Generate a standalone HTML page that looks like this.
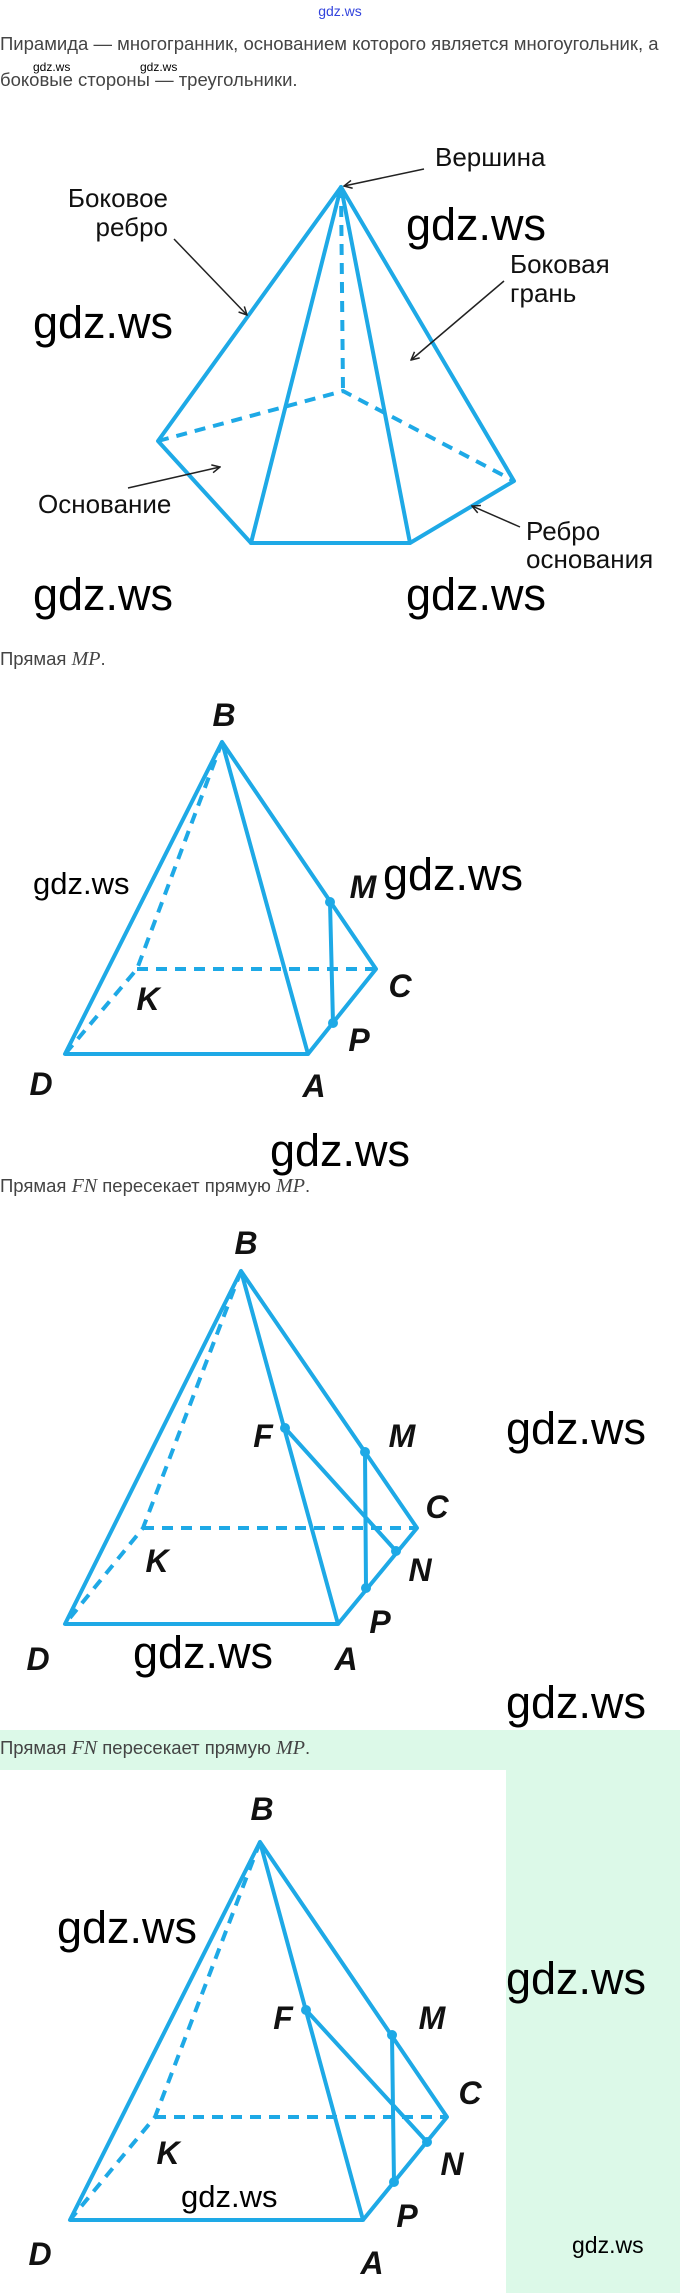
<!DOCTYPE html>
<html><head><meta charset="utf-8"><style>
html,body{margin:0;padding:0;background:#fff;}
body{width:680px;height:2293px;overflow:hidden;position:relative;}
svg{position:absolute;left:0;top:0;}
.t{font-family:"Liberation Sans",sans-serif;fill:#444;font-size:18.5px;}
.w{font-family:"Liberation Sans",sans-serif;fill:#000;}
.lb{font-family:"Liberation Sans",sans-serif;fill:#111;font-size:26px;}
.L{font-family:"Liberation Sans Narrow","Liberation Sans",sans-serif;font-weight:bold;font-style:italic;fill:#111;font-size:32px;}
.m{font-family:"Liberation Serif",serif;font-style:italic;}
.s{stroke:#1ea9e6;stroke-width:4;fill:none;stroke-linecap:round;stroke-linejoin:round;}
.d{stroke:#1ea9e6;stroke-width:4;fill:none;stroke-dasharray:11 8;}
.a{stroke:#222;stroke-width:1.5;fill:none;}
</style></head><body>
<svg width="680" height="2293" viewBox="0 0 680 2293" xmlns="http://www.w3.org/2000/svg">
<defs><marker id="ar" markerWidth="10" markerHeight="10" refX="9" refY="5" orient="auto" markerUnits="userSpaceOnUse"><path d="M1,1 L9,5 L1,9" fill="none" stroke="#222" stroke-width="1.5"/></marker></defs>
<rect x="0" y="1730" width="680" height="563" fill="#dcf9e8"/>
<rect x="0" y="1770" width="506" height="523" fill="#fff"/>

<text x="340" y="16" text-anchor="middle" font-family="Liberation Sans" font-size="14" fill="#3344dd">gdz.ws</text>
<text class="t" x="0" y="50">Пирамида — многогранник, основанием которого является многоугольник, а</text>
<text class="t" x="0" y="86">боковые стороны — треугольники.</text>
<text class="w" x="33" y="71" font-size="12">gdz.ws</text>
<text class="w" x="140" y="71" font-size="12">gdz.ws</text>

<!-- pyramid 1 -->
<path class="d" d="M341,187 L343,391 M158,441 L343,391 L514,481"/>
<path class="s" d="M158,441 L251,543 L410,543 L514,481 L341,187 Z M341,187 L251,543 M341,187 L410,543"/>
<text class="lb" x="435" y="166">Вершина</text>
<path class="a" d="M424,169 L344,186" marker-end="url(#ar)"/>
<text class="lb" x="168" y="207" text-anchor="end">Боковое</text>
<text class="lb" x="168" y="236" text-anchor="end">ребро</text>
<path class="a" d="M174,239 L247,315" marker-end="url(#ar)"/>
<text class="lb" x="510" y="273">Боковая</text>
<text class="lb" x="510" y="302">грань</text>
<path class="a" d="M504,281 L411,360" marker-end="url(#ar)"/>
<text class="lb" x="38" y="513">Основание</text>
<path class="a" d="M128,488 L220,467" marker-end="url(#ar)"/>
<text class="lb" x="526" y="540">Ребро</text>
<text class="lb" x="526" y="568">основания</text>
<path class="a" d="M520,527 L472,506" marker-end="url(#ar)"/>
<text class="w" x="406" y="240" font-size="45">gdz.ws</text>
<text class="w" x="33" y="338" font-size="45">gdz.ws</text>
<text class="w" x="33" y="610" font-size="45">gdz.ws</text>
<text class="w" x="406" y="610" font-size="45">gdz.ws</text>

<!-- section 2 -->
<text class="t" x="0" y="665" font-size="18">Прямая <tspan class="m" font-size="20">MP</tspan>.</text>
<path class="d" d="M222,742 L137,969 L65,1054 M137,969 L376,969"/>
<path class="s" d="M222,742 L65,1054 L308,1054 L376,969 Z M222,742 L308,1054 M330,902 L333,1023"/>
<circle cx="330" cy="902" r="5" fill="#1ea9e6"/><circle cx="333" cy="1023" r="5" fill="#1ea9e6"/>
<text class="L" x="224" y="726" text-anchor="middle">B</text>
<text class="L" x="363" y="898" text-anchor="middle">M</text>
<text class="L" x="148" y="1010" text-anchor="middle">K</text>
<text class="L" x="400" y="997" text-anchor="middle">C</text>
<text class="L" x="359" y="1051" text-anchor="middle">P</text>
<text class="L" x="41" y="1095" text-anchor="middle">D</text>
<text class="L" x="314" y="1097" text-anchor="middle">A</text>
<text class="w" x="33" y="894" font-size="31">gdz.ws</text>
<text class="w" x="383" y="890" font-size="45">gdz.ws</text>
<text class="w" x="270" y="1166" font-size="45">gdz.ws</text>

<!-- section 3 -->
<text class="t" x="0" y="1192" font-size="18">Прямая <tspan class="m" font-size="20">FN</tspan> пересекает прямую <tspan class="m" font-size="20">MP</tspan>.</text>
<path class="d" d="M241,1271 L143,1528 L65,1624 M143,1528 L417,1528"/>
<path class="s" d="M241,1271 L65,1624 L338,1624 L417,1528 Z M241,1271 L338,1624 M365,1452 L366,1588 M285,1428 L396,1551"/>
<circle cx="285" cy="1428" r="5" fill="#1ea9e6"/><circle cx="365" cy="1452" r="5" fill="#1ea9e6"/><circle cx="396" cy="1551" r="5" fill="#1ea9e6"/><circle cx="366" cy="1588" r="5" fill="#1ea9e6"/>
<text class="L" x="246" y="1254" text-anchor="middle">B</text>
<text class="L" x="263" y="1447" text-anchor="middle">F</text>
<text class="L" x="402" y="1447" text-anchor="middle">M</text>
<text class="L" x="437" y="1518" text-anchor="middle">C</text>
<text class="L" x="420" y="1581" text-anchor="middle">N</text>
<text class="L" x="157" y="1572" text-anchor="middle">K</text>
<text class="L" x="380" y="1633" text-anchor="middle">P</text>
<text class="L" x="38" y="1670" text-anchor="middle">D</text>
<text class="L" x="346" y="1670" text-anchor="middle">A</text>
<text class="w" x="506" y="1444" font-size="45">gdz.ws</text>
<text class="w" x="133" y="1668" font-size="45">gdz.ws</text>
<text class="w" x="506" y="1718" font-size="45">gdz.ws</text>

<!-- section 4 -->
<text class="t" x="0" y="1754" font-size="18">Прямая <tspan class="m" font-size="20">FN</tspan> пересекает прямую <tspan class="m" font-size="20">MP</tspan>.</text>
<path class="d" d="M260,1842 L155,2117 L70,2220 M155,2117 L447,2117"/>
<path class="s" d="M260,1842 L70,2220 L363,2220 L447,2117 Z M260,1842 L363,2220 M392,2035 L394,2182 M306,2010 L427,2142"/>
<circle cx="306" cy="2010" r="5" fill="#1ea9e6"/><circle cx="392" cy="2035" r="5" fill="#1ea9e6"/><circle cx="427" cy="2142" r="5" fill="#1ea9e6"/><circle cx="394" cy="2182" r="5" fill="#1ea9e6"/>
<text class="L" x="262" y="1820" text-anchor="middle">B</text>
<text class="L" x="283" y="2029" text-anchor="middle">F</text>
<text class="L" x="432" y="2029" text-anchor="middle">M</text>
<text class="L" x="470" y="2104" text-anchor="middle">C</text>
<text class="L" x="452" y="2175" text-anchor="middle">N</text>
<text class="L" x="168" y="2164" text-anchor="middle">K</text>
<text class="L" x="407" y="2227" text-anchor="middle">P</text>
<text class="L" x="40" y="2265" text-anchor="middle">D</text>
<text class="L" x="372" y="2274" text-anchor="middle">A</text>
<text class="w" x="57" y="1943" font-size="45">gdz.ws</text>
<text class="w" x="506" y="1994" font-size="45">gdz.ws</text>
<text class="w" x="181" y="2207" font-size="31">gdz.ws</text>
<text class="w" x="572" y="2253" font-size="23">gdz.ws</text>
</svg>
</body></html>
